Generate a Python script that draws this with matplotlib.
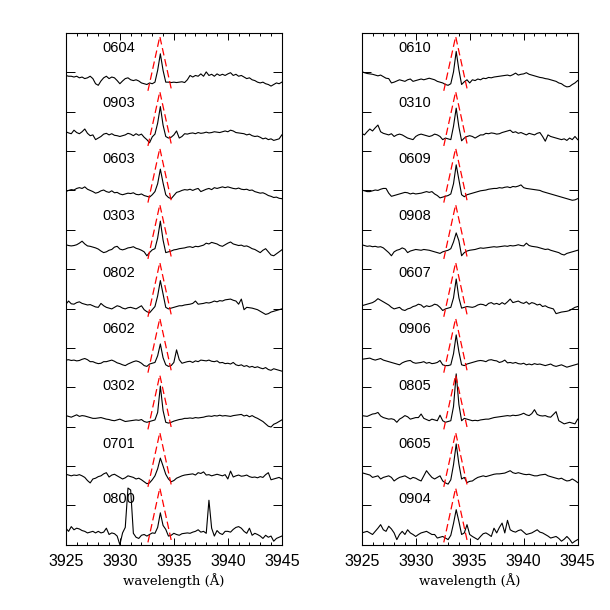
import numpy as np
import matplotlib
matplotlib.use("Agg")
import matplotlib.pyplot as plt

plt.rcParams['font.family'] = ['Liberation Sans', 'DejaVu Sans']

# wavelength grid (0.25 A steps) and flux deviations in units of 0.01
wave = np.arange(3925.0, 3945.01, 0.25)

s0604 = [11,9,9,7,9,5,7,3,5,9,3, -10,-14,-3,5,9,3,7,5,-2,-10, -3,3,5,0,-2,0,-3,-8,-10,-12, -8,-10,-6,
         24,66,24,-6,-6,-7,-6,-7,-6,-5,-7, 0,11,7,11,9,15,9,20,11,14,9, 15,11,14,11,15,18,11,14,9,11,
         7,3,5,0,-2,-6,-8,-6,-10,-12,-16,-12,-8,-10,-6]
s0903 = [8,5,3,12,6,3,8,15,4,-2,0, -12,-8,-4,2,4,0,3,-1,-2,-4, -2,0,4,2,-2,3,-1,2,-6,-12, -20,-5,2,
         30,72,25,-4,-8,-6,0,10,-8,-4,3, 2,4,5,3,6,4,5,7,5,6,8, 7,6,8,10,8,12,10,6,5,4,
         3,0,2,-2,-4,-3,-6,-10,-8,-12,-10,-14,-12,-10,0]
s0603 = [0,3,5,4,8,10,8,12,6,3,0, -4,-2,2,4,0,-2,2,-3,-2,-6, -8,-6,-4,-5,-3,-7,-8,-6,-10,-12, -14,-8,0,
         20,57,22,-8,-15,-18,-10,-2,0,3,5, 4,6,3,6,8,0,3,6,8,5,10, 8,10,12,10,12,10,8,7,9,6,
         5,6,3,4,0,-2,-4,-3,-6,-10,-12,-15,-14,-17,-18]
s0303 = [8,6,5,6,8,12,17,10,5,4,2, 0,-3,-8,-12,-10,-6,-4,2,4,-3, -5,-3,0,1,3,-1,-3,-6,-10,-20, -12,-5,-2,
         25,68,20,-12,-10,-8,-5,-4,-2,-1,0, 2,3,1,4,3,5,7,12,10,14,12, 10,6,4,8,12,15,10,8,6,7,
         4,5,2,-2,-4,-8,-12,-6,-2,-10,-18,-20,-15,-10,-5]
s0802 = [4,12,5,4,8,10,6,4,2,3,0, -3,-4,6,0,-4,-6,-8,-4,0,-2, -6,-8,-5,-4,-6,-8,-4,0,-10,-15, -18,-10,-2,
         25,64,30,-4,-8,-6,-4,-2,0,0,2, 3,4,6,12,4,5,6,8,7,9,12, 10,13,12,15,16,17,14,12,4,17,
         -10,-4,-5,-6,-8,-10,-14,-18,-22,-20,-16,-14,-12,-10,-8]
s0602 = [4,5,3,4,2,3,6,8,5,0,0, -3,-5,-4,0,0,2,4,1,-3,-5, -8,-10,-6,-3,0,2,0,-4,-10,-12, -6,-4,-2,
         15,45,10,-8,-12,-10,-2,30,5,-4,-2, 0,1,-2,2,0,4,3,2,4,1,0, 2,-3,-2,-5,-4,-6,-2,-8,-10,-8,
         -12,-10,-14,-12,-15,-13,-16,-18,-15,-20,-22,-18,-20,-22,-24]
s0302 = [7,5,3,6,9,5,7,6,4,2,0, 0,1,2,0,-2,-3,-5,-6,-4,-2, -5,-8,-7,-6,-5,-4,-5,-3,-8,-10, -8,-6,-4,
         15,82,20,-10,-12,-10,-7,-5,-3,-2,0, 0,1,0,2,1,2,3,5,6,5,7, 6,8,6,7,6,5,7,8,9,10,
         6,8,4,7,3,0,-4,-8,-14,-20,-22,-15,-12,-8,-4]
s0701 = [4,2,0,2,1,3,0,-4,-12,-18,-8, -6,-2,0,5,8,-3,2,4,0,-4, -8,-5,0,-2,-4,-8,-6,-10,-15,-20, -18,-10,0,
         18,45,25,4,-8,-15,-12,-6,-3,0,2, 3,4,5,2,8,6,10,2,3,0,2, 4,2,0,3,-8,12,-3,0,2,-1,
         0,2,-2,-4,-3,-5,-2,-4,3,8,-10,-8,-6,-4,-8]
s0800 = [8,0,12,4,8,6,2,0,-4,-2,0, -4,0,-4,-2,8,-8,-4,-6,-12,-34, -4,10,110,105,-5,-15,-18,-10,-8,-12, -8,-4,-5,
         10,47,15,5,-12,-10,-5,-8,-10,-6,-5, -4,-5,-2,0,4,-2,0,-5,79,8,-12, 2,-5,-8,0,0,-2,5,10,12,8,
         0,-5,8,-10,-5,-8,-12,-18,-10,-15,-12,-25,-18,-15,-12]

s0610 = [21,18,16,15,14,12,10,12,8,4,3, -8,-6,-3,0,-2,-4,0,2,-4,-2, 0,2,0,2,4,2,0,-4,-6,-8, -12,-14,-10,
         20,72,25,-12,-5,0,-8,0,-2,2,0, 4,3,6,5,7,8,9,10,11,12,10, 13,17,12,14,15,18,14,12,10,8,
         6,5,3,2,0,-2,-4,-8,-10,-15,-18,-17,-12,-8,-2]
s0310 = [4,0,8,15,10,18,25,8,4,2,0, 3,-4,0,2,0,-4,-8,-10,-12,-4, 0,2,0,-2,-4,-2,2,0,-4,-12, -8,-10,-12,
         22,68,20,-15,-8,-4,-2,-4,-8,-4,0, 0,4,3,5,4,2,3,6,8,10,12, 6,8,4,6,3,0,4,2,0,4,
         6,-4,-16,0,-4,-6,-8,-10,-12,-10,-14,-8,-12,-4,-12]
s0609 = [4,2,0,0,2,4,3,6,8,8,-4, -12,-10,-8,-6,-4,-2,-3,-6,-4,-6, -5,-4,-2,0,-2,0,-6,-10,-16,-14, -12,-10,-6,
         20,68,30,-8,-13,-8,-6,-4,-2,0,2, 3,4,6,7,8,8,10,9,11,12,10, 13,12,14,17,10,8,7,6,5,4,
         3,0,-2,-4,-6,-8,-10,-12,-14,-16,-18,-20,-22,-21,-18]
s0908 = [8,6,4,5,3,4,2,3,0,-6,-12, -20,-10,-6,-4,0,-3,-12,-8,-6,-4, -5,-6,-4,-5,-6,-8,-10,-12,-14,-10, -8,-6,-2,
         15,38,18,-20,-12,-8,-6,-5,-4,-2,0, -1,0,1,2,3,2,3,4,5,4,6, 5,6,8,6,5,12,6,4,3,2,
         0,-2,-4,-3,-6,-8,-10,-12,-16,-18,-14,-12,-10,-8,-6]
s0607 = [0,2,4,6,8,12,18,14,10,6,2, -4,-8,-6,-4,-10,-12,-8,-6,-2,0, 4,2,-4,0,-2,0,4,2,-4,-12, -8,-6,-4,
         20,68,20,-6,-4,-2,-3,-4,-2,2,4, 3,0,6,8,4,6,3,8,4,10,17, 8,10,12,8,6,10,4,8,6,2,
         4,-2,0,-4,-6,-8,-20,-18,-16,-15,-14,-12,-8,-4,-2]
s0906 = [6,7,8,9,6,4,6,8,4,2,0, -2,-4,-6,-8,-3,0,2,3,-2,-4, -3,-2,0,-4,-2,-5,-4,-2,3,-8, -10,-10,-8,
         20,68,25,-8,-10,-6,-4,-2,0,2,3, 2,0,4,5,3,2,-2,0,4,-3,-2, -4,-2,-5,-6,-4,-8,-6,-8,-5,-7,
         -6,-8,-10,-8,-6,-10,-12,-10,-8,-11,-14,-12,-10,-8,-6]
s0805 = [7,6,5,8,11,12,15,6,2,0,-2, -1,-3,-10,-2,2,7,4,-2,0,2, 2,11,0,-3,-6,-2,-4,-6,8,-6, -10,-8,-6,
         30,113,35,-6,0,-2,-4,-6,-5,-6,-4, -3,-2,-2,0,2,3,4,5,6,7,6, 8,7,8,10,13,9,7,12,22,10,
         7,6,7,4,3,10,17,-6,-10,-14,-12,-10,-12,-14,-2]
s0605 = [8,6,4,2,-4,-2,0,-8,-4,-2,0, -4,-13,-8,-4,-2,0,-4,-8,-4,-6, -10,-13,0,13,4,-4,-8,-4,0,-13, -18,-21,-10,
         28,81,30,-8,-4,-17,-14,-13,-8,-4,-2, 0,-2,0,2,4,5,5,6,7,10,13, 8,6,8,6,4,3,4,2,0,0,
         2,3,4,0,-2,-4,-6,-8,-6,-10,-13,-12,-8,-12,-17]
s0904 = [-4,-2,0,-4,-8,0,8,17,4,0,13, 6,-4,-21,-8,0,-8,4,-4,-8,-13, -8,-4,-2,0,-4,-8,-8,-17,-15,-13, -17,-21,-10,
         20,55,25,-8,-4,17,-8,-13,-17,-21,-13, -6,-4,-8,-13,8,-4,10,21,-4,28,4, 0,-2,2,4,-2,-8,-6,-4,0,4,
         -2,-4,-8,-12,-17,-15,-13,-18,-25,-20,-13,-20,-30,-25,-21]

left_names = ['0604', '0903', '0603', '0303', '0802', '0602', '0302', '0701', '0800']
left_spec = [s0604, s0903, s0603, s0303, s0802, s0602, s0302, s0701, s0800]
right_names = ['0610', '0310', '0609', '0908', '0607', '0906', '0805', '0605', '0904']
right_spec = [s0610, s0310, s0609, s0908, s0607, s0906, s0805, s0605, s0904]

offsets = [11.81, 10.41, 8.97, 7.54, 6.07, 4.65, 3.21, 1.75, 0.34]

# red dashed guide: apex wavelength and base half width
line_center = 3933.7
half_width = 1.1

fig = plt.figure(figsize=(6.1, 6.1), dpi=100)
ax1 = fig.add_axes([0.108, 0.107, 0.354, 0.839])
ax2 = fig.add_axes([0.593, 0.107, 0.354, 0.839])

for ax, names, specs in [(ax1, left_names, left_spec), (ax2, right_names, right_spec)]:
    for name, spec, off in zip(names, specs, offsets):
        flux = off + np.array(spec) / 100.0
        ax.plot(wave, flux, color='black', lw=0.8)
        ax.plot([line_center - half_width, line_center, line_center + half_width],
                [off - 0.28, off + 1.1, off - 0.28],
                color='red', lw=0.9, dashes=(6, 3))
        ax.text(3928.35, off + 0.82, name, fontsize=10.5, ha='left', va='center')

    ax.set_xlim(3925, 3945)
    ax.set_ylim(0, 13)
    ax.set_xticks([3925, 3930, 3935, 3940, 3945])
    ax.set_xticks(np.arange(3925, 3946, 1), minor=True)
    ax.set_yticks(np.arange(1, 13))
    ax.set_yticklabels([])
    ax.tick_params(axis='x', which='major', direction='in', top=True, length=5, width=0.7,
                   labelsize=11.5, pad=7)
    ax.tick_params(axis='x', which='minor', direction='in', top=True, length=2.5, width=0.7)
    ax.tick_params(axis='y', which='major', direction='in', right=True, length=6.5, width=0.7)
    for sp in ax.spines.values():
        sp.set_linewidth(0.8)
    ax.set_xlabel('wavelength (Å)', family=['DejaVu Serif'], fontsize=9.5, labelpad=3)

fig.savefig('out.png', dpi=100)
